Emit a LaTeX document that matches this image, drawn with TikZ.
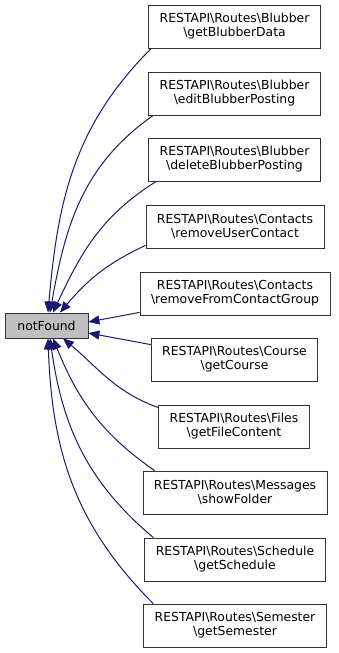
\documentclass[tikz,border=0pt]{standalone}
\usepackage{fontspec}
\usepackage{xcolor}
\usepackage{tikz}
\usetikzlibrary{arrows.meta}
\newfontfamily\graphfont{DejaVu Sans}
\newcommand{\pathsep}{\textbackslash}
\definecolor{edgenavy}{RGB}{25,25,112}
\definecolor{nodegray}{RGB}{191,191,191}

\begin{document}
\begin{tikzpicture}[
  x=1pt, y=1pt,
  routebox/.style={rectangle, draw=black!80, fill=white, line width=0.8pt, minimum height=43pt, inner xsep=11pt, align=center, font=\graphfont\fontsize{12.4}{14}\selectfont},
  focusbox/.style={routebox, fill=nodegray, minimum height=25pt, minimum width=83pt},
  callerline/.style={draw=edgenavy, line width=1pt, {Triangle[length=11pt,width=9pt]}-}
]
\useasboundingbox (0,0) rectangle (339,-653);

\node[focusbox] (notFound) at (46.5,-325.5) {notFound};

\node[routebox] (getBlubberData) at (234.5,-26.5) {RESTAPI\pathsep Routes\pathsep Blubber\\\pathsep getBlubberData};
\node[routebox] (editBlubberPosting) at (234.5,-93.5) {RESTAPI\pathsep Routes\pathsep Blubber\\\pathsep editBlubberPosting};
\node[routebox] (deleteBlubberPosting) at (234.5,-159.5) {RESTAPI\pathsep Routes\pathsep Blubber\\\pathsep deleteBlubberPosting};
\node[routebox] (removeUserContact) at (235,-226.5) {RESTAPI\pathsep Routes\pathsep Contacts\\\pathsep removeUserContact};
\node[routebox] (removeFromContactGroup) at (235,-293.5) {RESTAPI\pathsep Routes\pathsep Contacts\\\pathsep removeFromContactGroup};
\node[routebox] (getCourse) at (234.5,-359.5) {RESTAPI\pathsep Routes\pathsep Course\\\pathsep getCourse};
\node[routebox] (getFileContent) at (234,-426.5) {RESTAPI\pathsep Routes\pathsep Files\\\pathsep getFileContent};
\node[routebox] (showFolder) at (235,-492.5) {RESTAPI\pathsep Routes\pathsep Messages\\\pathsep showFolder};
\node[routebox] (getSchedule) at (235,-559.5) {RESTAPI\pathsep Routes\pathsep Schedule\\\pathsep getSchedule};
\node[routebox] (getSemester) at (235,-625.5) {RESTAPI\pathsep Routes\pathsep Semester\\\pathsep getSemester};

\draw[callerline] ([xshift=1.5pt]notFound.north) to[out=85,in=225] ([xshift=3pt]getBlubberData.south west);
\draw[callerline] ([xshift=3.5pt]notFound.north) to[out=80,in=215] ([xshift=5pt]editBlubberPosting.south west);
\draw[callerline] ([xshift=6.5pt]notFound.north) to[out=65,in=212] ([xshift=8pt]deleteBlubberPosting.south west);
\draw[callerline] ([xshift=13.5pt]notFound.north) to[out=50,in=205] ([yshift=3pt]removeUserContact.south west);
\draw[callerline] ([yshift=3.5pt]notFound.east) -- ([yshift=3pt]removeFromContactGroup.south west);
\draw[callerline] ([yshift=-7.5pt]notFound.east) -- ([yshift=-7pt]getCourse.north west);
\draw[callerline] ([xshift=16.5pt]notFound.south) to[out=-40,in=160] ([yshift=-3pt]getFileContent.north west);
\draw[callerline] ([xshift=6.5pt]notFound.south) to[out=-68,in=145] ([xshift=12pt]showFolder.north west);
\draw[callerline] ([xshift=3.5pt]notFound.south) to[out=-82,in=140] ([xshift=9pt]getSchedule.north west);
\draw[callerline] ([xshift=1.5pt]notFound.south) to[out=-88,in=135] ([xshift=10pt]getSemester.north west);
\end{tikzpicture}
\end{document}
